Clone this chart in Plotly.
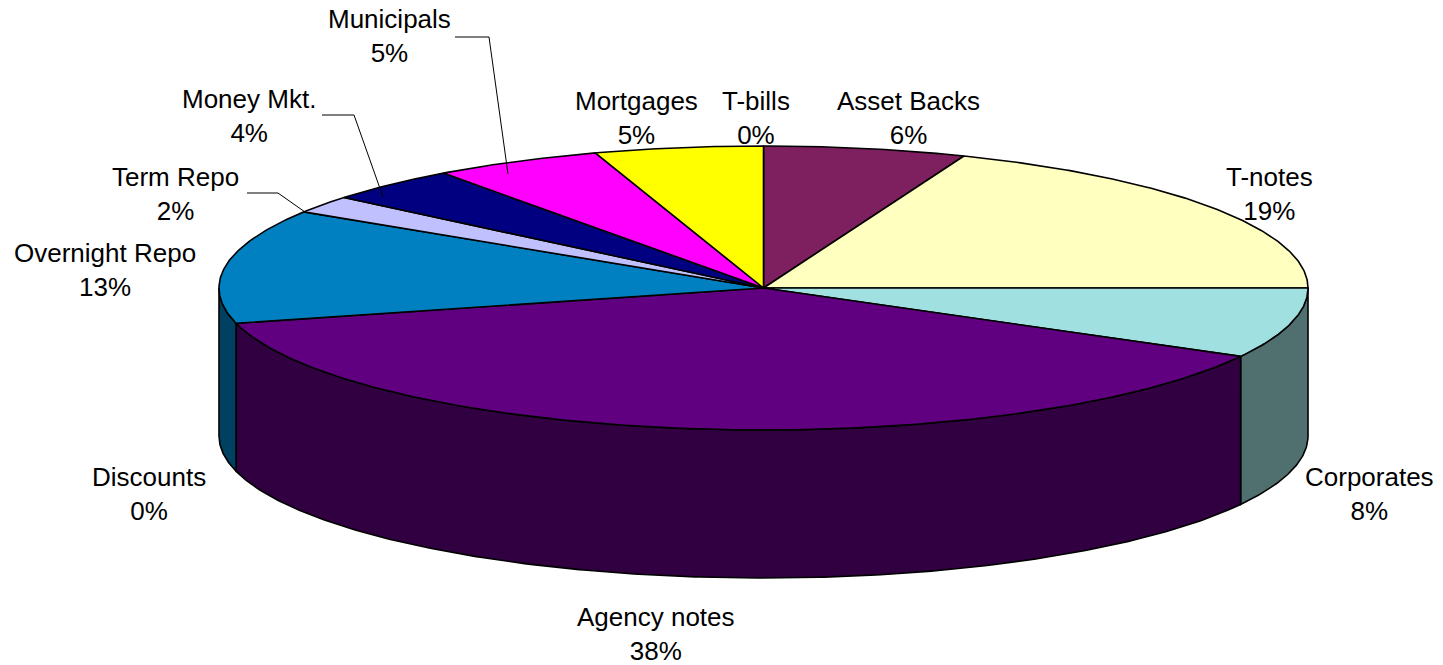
import numpy as np
import plotly.graph_objects as go

# Portfolio composition (percent of total), clockwise from 12 o'clock
categories = ["Asset Backs", "T-notes", "Corporates", "Agency notes", "Discounts",
              "Overnight Repo", "Term Repo", "Money Mkt.", "Municipals", "Mortgages", "T-bills"]
shares = [6, 19, 8, 38, 0, 13, 2, 4, 5, 5, 0]

top_colors = ["#7E2060", "#FFFFC0", "#A0E0E0", "#600080", "#808080",
              "#0080C0", "#C0C0FF", "#000080", "#FF00FF", "#FFFF00", "#C0C0C0"]
side_colors = ["#3F1030", "#808060", "#507070", "#300040", "#404040",
               "#004060", "#606080", "#000040", "#800080", "#808000", "#606060"]

# Label block centres and optional leader-line paths (pixel space)
label_pos = {
    "Asset Backs": (908, 118), "T-notes": (1269, 194), "Corporates": (1369, 494),
    "Agency notes": (656, 634), "Discounts": (149, 494), "Overnight Repo": (105, 270),
    "Term Repo": (175, 194), "Money Mkt.": (249, 116), "Municipals": (389, 36),
    "Mortgages": (636, 118), "T-bills": (756, 118),
}
leaders = {
    "Municipals": [(455, 37), (489, 37), (508, 174)],
    "Money Mkt.": [(322, 115), (354, 115), (383, 197)],
    "Term Repo": [(247, 193), (278, 193), (305, 212)],
}

W, H = 1443, 665
cx, cy, rx, ry, depth = 763.5, 288.0, 544.5, 142.0, 148.0


def rim(a_deg, dy=0.0):
    a = np.radians(a_deg)
    return cx + rx * np.sin(a), cy - ry * np.cos(a) + dy


total = float(sum(shares))
bounds = np.concatenate([[0.0], np.cumsum(shares) / total * 360.0])

fig = go.Figure()
line = dict(color="black", width=1.6)

# Visible outer wall: front half of the disc (90 deg to 270 deg)
for i, v in enumerate(shares):
    if v <= 0:
        continue
    s, e = max(bounds[i], 90.0), min(bounds[i + 1], 270.0)
    if e <= s:
        continue
    angs = np.linspace(s, e, max(int((e - s) * 2), 2))
    tx, ty = rim(angs)
    bx, by = rim(angs[::-1], depth)
    xs = np.concatenate([tx, bx, tx[:1]])
    ys = np.concatenate([ty, by, ty[:1]])
    fig.add_trace(go.Scatter(x=xs, y=ys, mode="lines", fill="toself",
                             fillcolor=side_colors[i], line=line,
                             hoverinfo="skip", showlegend=False))

# Top faces of the slices
for i, v in enumerate(shares):
    if v <= 0:
        continue
    s, e = bounds[i], bounds[i + 1]
    angs = np.linspace(s, e, max(int((e - s) * 2), 2))
    ax_, ay_ = rim(angs)
    xs = np.concatenate([[cx], ax_, [cx]])
    ys = np.concatenate([[cy], ay_, [cy]])
    fig.add_trace(go.Scatter(x=xs, y=ys, mode="lines", fill="toself",
                             fillcolor=top_colors[i], line=line,
                             hoverinfo="skip", showlegend=False))

# Leader lines
for name, pts in leaders.items():
    fig.add_trace(go.Scatter(x=[p[0] for p in pts], y=[p[1] for p in pts],
                             mode="lines", line=dict(color="black", width=1),
                             hoverinfo="skip", showlegend=False))

# Category labels with percentages
for name, v in zip(categories, shares):
    x, y = label_pos[name]
    fig.add_annotation(x=x, y=y, xref="x", yref="y", text=f"{name}<br>{v}%",
                       showarrow=False, xanchor="center", yanchor="middle",
                       align="center",
                       font=dict(family="Liberation Sans, Arial", size=26, color="black"))

fig.update_layout(
    width=W, height=H, margin=dict(l=0, r=0, t=0, b=0),
    paper_bgcolor="white", plot_bgcolor="white",
    xaxis=dict(range=[0, W], visible=False, fixedrange=True),
    yaxis=dict(range=[H, 0], visible=False, fixedrange=True),
    showlegend=False,
)

fig.write_html("out.html")
